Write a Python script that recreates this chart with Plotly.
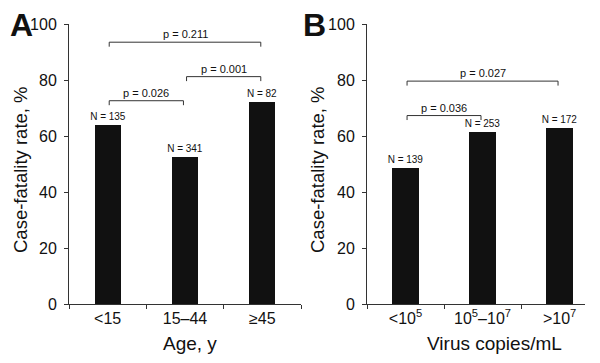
import plotly.graph_objects as go

# ---- data ----
age_groups = ["<15", "15–44", "≥45"]
age_cfr = [63.8, 52.6, 72.3]
age_n = [135, 341, 82]

virus_groups = ["<10<sup>5</sup>", "10<sup>5</sup>–10<sup>7</sup>", ">10<sup>7</sup>"]
virus_cfr = [48.5, 61.3, 62.9]
virus_n = [139, 253, 172]

# brackets: (from category index, to category index, level %, label)
age_brackets = [(0, 2, 93.5, "p = 0.211"), (0, 1, 72.6, "p = 0.026"), (1, 2, 81.2, "p = 0.001")]
virus_brackets = [(0, 2, 79.6, "p = 0.027"), (0, 1, 67.3, "p = 0.036")]

OFF = 8  # page body margin
W, H = 600 - OFF, 363 - OFF
FONT = "Liberation Sans, Arial, sans-serif"
BAR = "#111111"
AX = "#333333"

def px(x):
    return (x - OFF) / W

def py(y):
    return 1 - (y - OFF) / H

fig = go.Figure()
fig.add_trace(go.Bar(x=list(range(3)), y=age_cfr, xaxis="x", yaxis="y",
                     marker=dict(color=BAR, line=dict(width=0)), width=0.34,
                     text=[f"N = {n}" for n in age_n], textposition="outside",
                     constraintext="none",
                     textfont=dict(size=10, color="#111", family=FONT), cliponaxis=False,
                     showlegend=False))
fig.add_trace(go.Bar(x=list(range(3)), y=virus_cfr, xaxis="x2", yaxis="y2",
                     marker=dict(color=BAR, line=dict(width=0)), width=0.34,
                     text=[f"N = {n}" for n in virus_n], textposition="outside",
                     constraintext="none",
                     textfont=dict(size=10, color="#111", family=FONT), cliponaxis=False,
                     showlegend=False))

yax = dict(range=[0, 100], dtick=20, ticks="outside", ticklen=4, tickcolor=AX,
           showline=True, linecolor=AX, linewidth=1, showgrid=False, zeroline=False,
           automargin=False,
           tickfont=dict(size=16, color="#111", family=FONT), ticklabelstandoff=4)
xax_common = dict(showline=True, linecolor=AX, linewidth=1, showgrid=False, zeroline=False,
                  automargin=False, ticks="",
                  tickfont=dict(size=16, color="#111", family=FONT), tickmode="array",
                  tickvals=[0, 1, 2], ticklabelstandoff=0,
                  minor=dict(tickvals=[-0.5, 0.5, 1.5, 2.5], ticks="outside", ticklen=4,
                             tickcolor=AX, showgrid=False))

fig.update_layout(
    template="none",
    width=W, height=H, margin=dict(l=0, r=0, t=0, b=0),
    paper_bgcolor="white", plot_bgcolor="white", bargap=0,
    font=dict(family=FONT, color="#111"),
    xaxis=dict(domain=[px(69), px(301)], range=[-0.5, 2.5], ticktext=age_groups, anchor="y",
               **xax_common),
    yaxis=dict(domain=[py(304), py(24)], anchor="x", **yax),
    xaxis2=dict(domain=[px(367), px(585)], range=[-0.5, 2.33], ticktext=virus_groups, anchor="y2",
                **xax_common),
    yaxis2=dict(domain=[py(304), py(24)], anchor="x2", **yax),
)

def add_brackets(brackets, xref, yref):
    for a, b, lvl, lab in brackets:
        x0, x1 = a + 0.02, b - 0.02
        drop = 1.6
        fig.add_shape(type="path", xref=xref, yref=yref,
                      path=f"M {x0} {lvl - drop} L {x0} {lvl} L {x1} {lvl} L {x1} {lvl - drop}",
                      line=dict(color=AX, width=1))
        fig.add_annotation(x=(x0 + x1) / 2, y=lvl, xref=xref, yref=yref, text=lab,
                           showarrow=False, yanchor="bottom", yshift=0,
                           font=dict(size=11, color="#111", family=FONT))

add_brackets(age_brackets, "x", "y")
add_brackets(virus_brackets, "x2", "y2")

# axis titles
for xc, t in ((190, "Age, y"), (494, "Virus copies/mL")):
    fig.add_annotation(x=px(xc), y=py(343), xref="paper", yref="paper", text=t, showarrow=False,
                       xanchor="center", yanchor="middle",
                       font=dict(size=19, color="#111", family=FONT))
for xc in (20, 317):
    fig.add_annotation(x=px(xc), y=py(170), xref="paper", yref="paper",
                       text="Case-fatality rate, %", textangle=-90, showarrow=False,
                       xanchor="center", yanchor="middle",
                       font=dict(size=18.5, color="#111", family=FONT))

# panel letters
for xc, t in ((21, "A"), (315, "B")):
    fig.add_annotation(x=px(xc), y=py(25), xref="paper", yref="paper", text=f"<b>{t}</b>",
                       showarrow=False, xanchor="center", yanchor="middle", borderpad=0,
                       font=dict(size=32, color="#111", family=FONT))

fig.write_html("out.html")
